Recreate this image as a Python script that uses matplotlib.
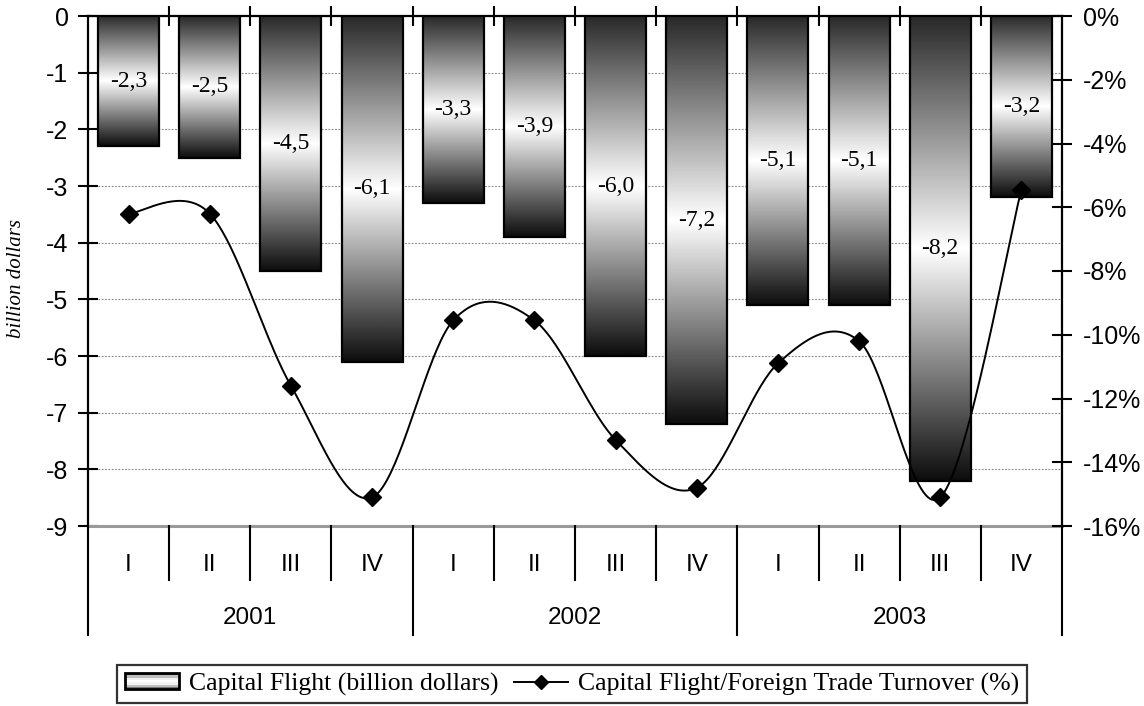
import numpy as np
import matplotlib
matplotlib.use("Agg")
import matplotlib.pyplot as plt
from matplotlib.patches import Rectangle, Patch
from matplotlib.lines import Line2D
from matplotlib.legend_handler import HandlerBase

# ---------------- data ----------------
quarters = ["I", "II", "III", "IV", "I", "II", "III", "IV", "I", "II", "III", "IV"]
years = ["2001", "2002", "2003"]
capital_flight = [-2.3, -2.5, -4.5, -6.1, -3.3, -3.9, -6.0, -7.2, -5.1, -5.1, -8.2, -3.2]
flight_to_turnover_pct = [-6.2, -6.2, -11.6, -15.1, -9.55, -9.55, -13.3, -14.8, -10.9, -10.2, -15.1, -5.45]
left_ticks = [0, -1, -2, -3, -4, -5, -6, -7, -8, -9]
right_ticks = [0, -2, -4, -6, -8, -10, -12, -14, -16]

SANS = "Liberation Sans"
SERIF = "Liberation Serif"

fig = plt.figure(figsize=(11.44, 7.06), dpi=100)
ax = fig.add_axes([88 / 1144, 1 - 526 / 706, (1062 - 88) / 1144, (526 - 16) / 706])
ax2 = ax.twinx()

n = len(capital_flight)
x = np.arange(n)
bw = 0.75

# gradient profile (top -> bottom): dark, white, dark
tt = np.linspace(0, 1, 256)
grad = np.interp(tt, [0, 0.5, 1], [0.16, 1.0, 0.05]).reshape(-1, 1)

bars = ax.bar(x, capital_flight, width=bw, fill=False, edgecolor="black",
              linewidth=1.6, zorder=4)
for xi, v in zip(x, capital_flight):
    ax.imshow(grad, cmap="gray", vmin=0, vmax=1, aspect="auto",
              extent=[xi - bw / 2, xi + bw / 2, v, 0], zorder=3,
              interpolation="bilinear")
    ax.text(xi, v / 2, f"{v:.1f}".replace(".", ","), ha="center", va="center",
            fontsize=17, family=SERIF, zorder=5)

ax.set_xlim(-0.5, n - 0.5)
ax.set_ylim(-9, 0)
ax.set_yticks(left_ticks)
ax.set_yticklabels([str(t) for t in left_ticks], family=SANS, fontsize=18)
ax.yaxis.grid(True, linestyle=(0, (1.5, 1.5)), color="#808080", linewidth=0.8, zorder=0)
ax.set_axisbelow(True)
ax.tick_params(axis="y", direction="inout", length=14, width=1.5, pad=7)

# category axis at top (y = 0)
ax.xaxis.set_ticks_position("top")
ax.set_xticks(np.arange(0.5, n - 0.5, 1))
ax.set_xticklabels([])
ax.tick_params(axis="x", direction="inout", length=14, width=1.5)

for s in ["left", "right", "top"]:
    ax.spines[s].set_linewidth(1.6)
    ax.spines[s].set_color("black")
ax.spines["bottom"].set_color("#9a9a9a")
ax.spines["bottom"].set_linewidth(2.2)

ax.set_ylabel("billion dollars", family=SERIF, style="italic", fontsize=15)
ax.yaxis.set_label_coords(-0.064, 0.486)

# secondary axis
ax2.set_ylim(-16, 0)
ax2.set_yticks(right_ticks)
ax2.set_yticklabels([f"{t}%" for t in right_ticks], family=SANS, fontsize=18)
ax2.tick_params(axis="y", direction="inout", length=14, width=1.5, pad=8)
for s in ax2.spines.values():
    s.set_visible(False)

# smoothed line (Excel-style Catmull-Rom through data points)
xs = x.astype(float)
ys = np.array(flight_to_turnover_pct, dtype=float)
P = np.column_stack([xs, ys])
curve = []
for i in range(n - 1):
    p0 = P[i - 1] if i > 0 else P[i]
    p1, p2 = P[i], P[i + 1]
    p3 = P[i + 2] if i + 2 < n else P[i + 1]
    c1 = p1 + (p2 - p0) / 6
    c2 = p2 - (p3 - p1) / 6
    t = np.linspace(0, 1, 40)[:, None]
    seg = ((1 - t) ** 3) * p1 + 3 * ((1 - t) ** 2) * t * c1 + 3 * (1 - t) * t ** 2 * c2 + t ** 3 * p2
    curve.append(seg)
curve = np.vstack(curve)
ax2.plot(curve[:, 0], curve[:, 1], color="black", linewidth=1.4, zorder=6)
ax2.plot(xs, ys, linestyle="none", marker="D", markersize=9, color="black", zorder=7)

# multi-level category labels below plot
tr = ax.get_xaxis_transform()
y_q = -0.077
y_qsep = -0.1065
y_year = -0.180
y_ysep = -0.2144
for xi, q in zip(x, quarters):
    ax.text(xi, y_q, q, transform=tr, ha="center", va="center", family=SANS, fontsize=17.5)
for b in np.arange(-0.5, n, 1):
    is_year = (b + 0.5) % 4 == 0
    ax.plot([b, b], [0, y_ysep if is_year else y_qsep], transform=tr, color="black",
            linewidth=1.5, clip_on=False, zorder=5)
for k, yr in enumerate(years):
    ax.text(4 * k + 1.5, y_year, yr, transform=tr, ha="center", va="center",
            family=SANS, fontsize=17.5)


# legend
class GradHandler(HandlerBase):
    def create_artists(self, legend, orig_handle, xdescent, ydescent, width, height,
                       fontsize, trans):
        shades = [0.45, 0.75, 0.95, 1.0, 0.95, 0.75, 0.45]
        arts = []
        x0, y0 = -xdescent, -ydescent
        h = height / len(shades)
        for i, s in enumerate(shades):
            r = Rectangle((x0, y0 + height - (i + 1) * h), width, h,
                          facecolor=(s, s, s), edgecolor="none", transform=trans)
            arts.append(r)
        arts.append(Rectangle((x0, y0), width, height, facecolor="none",
                              edgecolor="black", linewidth=2.0, transform=trans))
        return arts


h_bar = Patch(label="Capital Flight (billion dollars)")
h_line = Line2D([], [], color="black", marker="D", markersize=7, linewidth=1.4,
                label="Capital Flight/Foreign Trade Turnover (%)")
leg = fig.legend(handles=[h_bar, h_line], loc="center", bbox_to_anchor=(0.5, 1 - 684 / 706),
                 ncol=2, frameon=True, fancybox=False, edgecolor="black",
                 prop={"family": SERIF, "size": 18.5}, handler_map={Patch: GradHandler()},
                 handlelength=2.1, handleheight=0.6, handletextpad=0.4, columnspacing=0.6,
                 borderpad=0.3, borderaxespad=0)
leg.get_frame().set_linewidth(1.6)

fig.savefig("out.png", dpi=100)
